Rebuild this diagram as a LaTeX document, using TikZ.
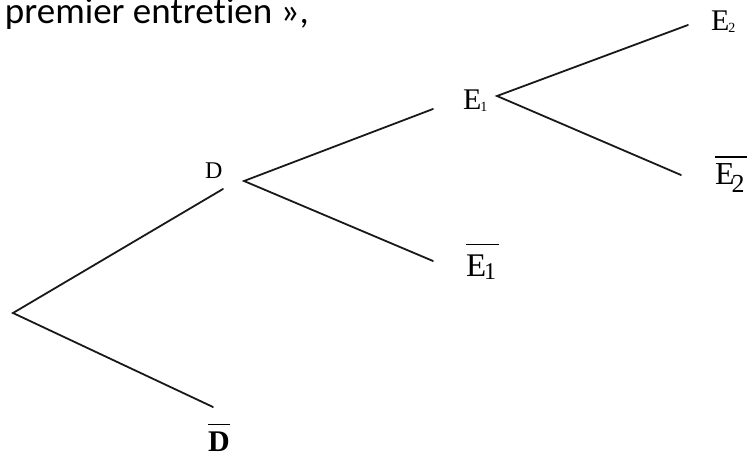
\documentclass[tikz,border=0pt]{standalone}
\usepackage{fontspec}
\setmainfont{Liberation Serif}
\newfontfamily\txtfont[Ligatures=NoCommon]{Carlito}
\newcommand\barlbl[2]{\vbox{\hrule height 1.8pt \kern #1\hbox{#2}}}
\begin{document}
\begin{tikzpicture}[x=1pt,y=-1pt,
  branch/.style={line width=1.8pt,line cap=round,color=black!90},
  lbl/.style={inner sep=0pt,outer sep=0pt}]
\useasboundingbox (0,0) rectangle (755,454);
% header text
\node[lbl,anchor=base west] (txt) at (5,24) {\txtfont\fontsize{37}{40}\selectfont premier entretien »,};
% vertices / line ends
\coordinate (r) at (13,313);
\coordinate (dup) at (223,189);
\coordinate (dbend) at (213,407);
\coordinate (dv) at (244,181);
\coordinate (e1end) at (433,109);
\coordinate (e1bend) at (433,261);
\coordinate (e1v) at (497,96);
\coordinate (e2end) at (688,25);
\coordinate (e2bend) at (681,175);
% branches
\draw[branch] (dup) -- (r) -- (dbend);
\draw[branch] (e1end) -- (dv) -- (e1bend);
\draw[branch] (e2end) -- (e1v) -- (e2bend);
% labels
\node[lbl,anchor=base west] (D) at (205,179) {\fontsize{24}{26}\selectfont D};
\node[lbl,anchor=base west] (E1) at (463,110) {\fontsize{30}{32}\selectfont E\kern-1pt\raisebox{-2pt}{\fontsize{14}{14}\selectfont 1}};
\node[lbl,anchor=base west] (E2) at (711,31) {\fontsize{30}{32}\selectfont E\kern-1pt\raisebox{-2pt}{\fontsize{14}{14}\selectfont 2}};
\node[lbl,anchor=base west] (E1b) at (466,277) {\barlbl{10pt}{\fontsize{33}{35}\selectfont E\kern-2pt\raisebox{-3pt}{\fontsize{24}{26}\selectfont 1}\kern3pt}};
\node[lbl,anchor=base west] (E2b) at (715,185) {\barlbl{6pt}{\fontsize{32}{34}\selectfont E\kern-3pt\raisebox{-8pt}{\fontsize{26}{28}\selectfont 2}\kern2pt}};
\node[lbl,anchor=base west] (Db) at (208,451) {\barlbl{6pt}{\fontsize{30}{32}\selectfont\bfseries D}};
\end{tikzpicture}
\end{document}
